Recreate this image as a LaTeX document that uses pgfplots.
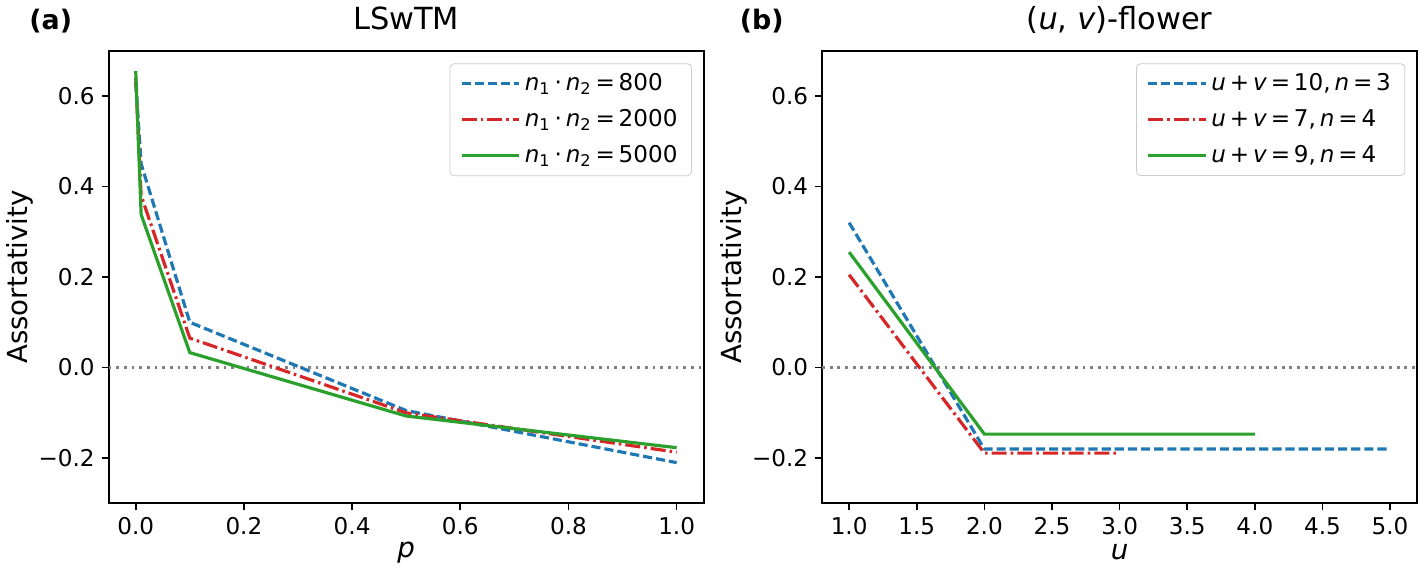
\documentclass[border=0pt]{standalone}
\usepackage{pgfplots}
\pgfplotsset{compat=1.18}
\usepackage{fontspec}
\setmainfont{DejaVu Sans}
\definecolor{tabblue}{HTML}{1F77B4}
\definecolor{tabred}{HTML}{D62728}
\definecolor{tabgreen}{HTML}{2CA02C}
\newcommand{\tfs}{\fontsize{11.6}{13.9}\selectfont}
\pgfplotsset{
  myaxis/.style={
    scale only axis, width=299pt, height=227.5pt,
    clip mode=individual,
    ymin=-0.3, ymax=0.7,
    ytick={-0.2,0,0.2,0.4,0.6},
    yticklabels={−0.2,0.0,0.2,0.4,0.6},
    tick align=outside, xtick pos=left, ytick pos=left,
    major tick length=3.5pt,
    tick style={black, line width=0.8pt},
    axis line style={line width=0.9pt},
    ticklabel style={font=\tfs},
    label style={font=\fontsize{13.9}{16}\selectfont},
    title style={font=\fontsize{15.3}{18}\selectfont, at={(axis description cs:0.5,1)}, anchor=base, yshift=4.5pt},
    ylabel style={at={(axis description cs:-0.149,0.5)}, anchor=center},
    xlabel style={at={(axis description cs:0.5,-0.108)}, anchor=center},
    legend style={font=\tfs, draw=black!20, rounded corners=2pt, fill=white, fill opacity=0.8, text opacity=1,
      anchor=north east, at={(axis description cs:0.98,0.972)}, row sep=4pt, inner xsep=5pt, inner ysep=3pt},
    legend cell align=left,
    legend image code/.code={\draw[#1] (0pt,0pt) -- (24pt,0pt); \path (0pt,0pt) -- (29pt,0pt);},
    every axis plot/.append style={line width=1.6pt, no marks},
  },
  bl/.style={tabblue, dash pattern=on 4.6pt off 2pt},
  rd/.style={tabred, dash pattern=on 7.6pt off 2pt on 1.3pt off 2pt},
  gr/.style={tabgreen},
  zl/.style={gray, line width=1.4pt, dash pattern=on 1.4pt off 2.45pt, forget plot},
}
\begin{document}
\begin{tikzpicture}
\begin{axis}[myaxis,
  xmin=-0.05, xmax=1.05,
  xtick={0,0.2,0.4,0.6,0.8,1.0},
  xticklabels={0.0,0.2,0.4,0.6,0.8,1.0},
  title={LSwTM}, xlabel={\textit{p}}, ylabel={Assortativity}]
\addplot[zl] coordinates {(-0.05,0) (1.05,0)};
\addplot[bl] coordinates {(0,0.63) (0.01,0.45) (0.1,0.10) (0.5,-0.095) (1,-0.21)};
\addlegendentry{\textit{n}\textsubscript{1}\,·\,\textit{n}\textsubscript{2}\,=\,800}
\addplot[rd] coordinates {(0,0.64) (0.01,0.38) (0.1,0.065) (0.5,-0.10) (1,-0.187)};
\addlegendentry{\textit{n}\textsubscript{1}\,·\,\textit{n}\textsubscript{2}\,=\,2000}
\addplot[gr] coordinates {(0,0.655) (0.01,0.338) (0.1,0.033) (0.5,-0.107) (1,-0.177)};
\addlegendentry{\textit{n}\textsubscript{1}\,·\,\textit{n}\textsubscript{2}\,=\,5000}
\node[font=\bfseries\fontsize{13.5}{16}\selectfont, anchor=base west, inner sep=0pt]
  at (rel axis cs:0,1) [xshift=-40pt, yshift=10.5pt] {(a)};
\end{axis}
\begin{axis}[myaxis, xshift=358.5pt,
  xmin=0.8, xmax=5.2,
  xtick={1,1.5,2,2.5,3,3.5,4,4.5,5},
  xticklabels={1.0,1.5,2.0,2.5,3.0,3.5,4.0,4.5,5.0},
  title={(\textit{u}, \textit{v})-flower}, xlabel={\textit{u}}, ylabel={Assortativity}]
\addplot[zl] coordinates {(0.8,0) (5.2,0)};
\addplot[bl] coordinates {(1,0.32) (2,-0.18) (3,-0.18) (4,-0.18) (5,-0.18)};
\addlegendentry{\textit{u}\,+\,\textit{v}\,=\,10,\,\textit{n}\,=\,3}
\addplot[rd] coordinates {(1,0.205) (2,-0.189) (3,-0.189)};
\addlegendentry{\textit{u}\,+\,\textit{v}\,=\,7,\,\textit{n}\,=\,4}
\addplot[gr] coordinates {(1,0.255) (2,-0.147) (3,-0.147) (4,-0.147)};
\addlegendentry{\textit{u}\,+\,\textit{v}\,=\,9,\,\textit{n}\,=\,4}
\node[font=\bfseries\fontsize{13.5}{16}\selectfont, anchor=base west, inner sep=0pt]
  at (rel axis cs:0,1) [xshift=-41.5pt, yshift=10.5pt] {(b)};
\end{axis}
\end{tikzpicture}
\end{document}
